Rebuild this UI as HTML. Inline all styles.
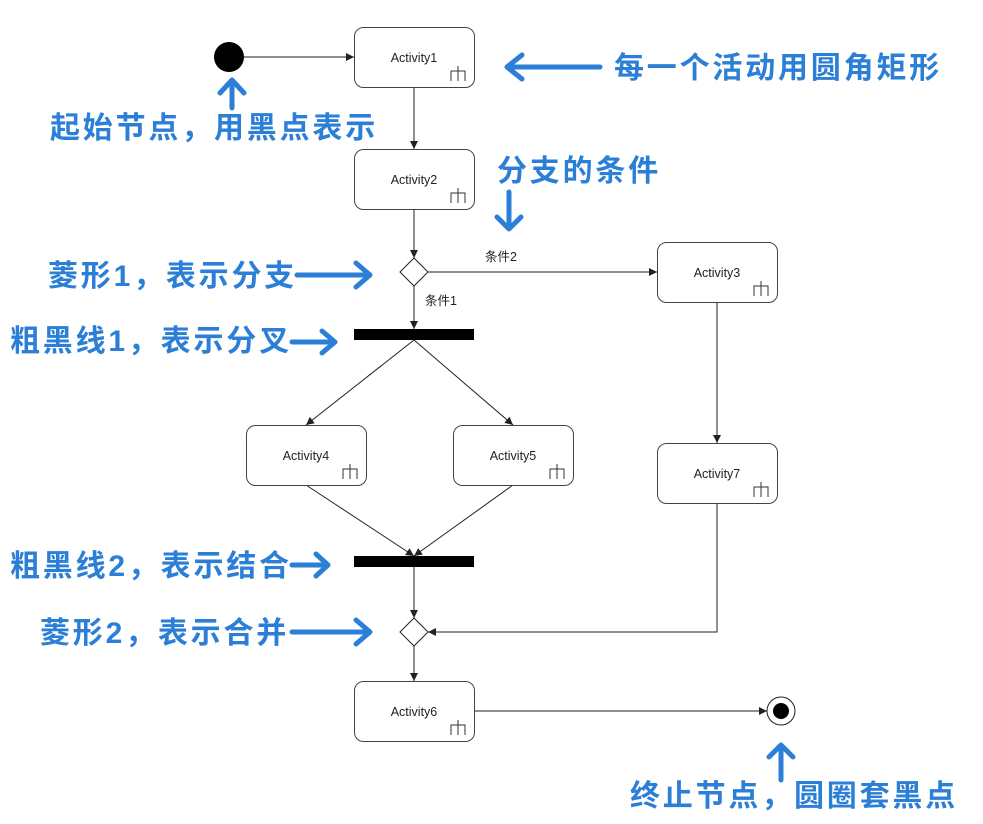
<!DOCTYPE html>
<html><head><meta charset="utf-8"><style>
body{margin:0;background:#fff;}
svg{display:block}
.a{font-family:"Liberation Sans","Noto Sans CJK SC",sans-serif;font-size:12.5px;fill:#222}
.b{font-family:"Liberation Sans","Noto Sans CJK SC",sans-serif;font-size:30px;font-weight:bold;fill:#2b7fd6;letter-spacing:2.8px}
.bl{stroke:#2b7fd6;stroke-width:5;fill:none;stroke-linecap:round;stroke-linejoin:round}
</style></head><body>
<svg width="983" height="824" viewBox="0 0 983 824">
<defs><marker id="ar" markerWidth="10" markerHeight="10" refX="9" refY="5" orient="auto" markerUnits="userSpaceOnUse"><path d="M1,1 L9,5 L1,9 z" fill="#222"/></marker></defs>
<g stroke="#222" stroke-width="1" fill="none">
<line x1="244" y1="57" x2="354" y2="57" marker-end="url(#ar)"/>
<line x1="414" y1="87" x2="414" y2="149" marker-end="url(#ar)"/>
<line x1="414" y1="209" x2="414" y2="258" marker-end="url(#ar)"/>
<line x1="428" y1="272" x2="657" y2="272" marker-end="url(#ar)"/>
<line x1="414" y1="286" x2="414" y2="329" marker-end="url(#ar)"/>
<line x1="414" y1="340" x2="306" y2="425" marker-end="url(#ar)"/>
<line x1="414" y1="340" x2="513" y2="425" marker-end="url(#ar)"/>
<line x1="717" y1="302" x2="717" y2="443" marker-end="url(#ar)"/>
<line x1="306" y1="485" x2="414" y2="556" marker-end="url(#ar)"/>
<line x1="513" y1="485" x2="414" y2="556" marker-end="url(#ar)"/>
<line x1="414" y1="567" x2="414" y2="618" marker-end="url(#ar)"/>
<polyline points="717,503 717,632 428,632" marker-end="url(#ar)"/>
<line x1="414" y1="646" x2="414" y2="681" marker-end="url(#ar)"/>
<line x1="474" y1="711" x2="767" y2="711" marker-end="url(#ar)"/>
</g>
<circle cx="229" cy="57" r="15" fill="#000"/>
<circle cx="781" cy="711" r="14" fill="#fff" stroke="#222"/>
<circle cx="781" cy="711" r="8" fill="#000"/>
<rect x="354" y="329" width="120" height="11" fill="#000"/>
<rect x="354" y="556" width="120" height="11" fill="#000"/>
<polygon points="414,258 428,272 414,286 400,272" fill="#fff" stroke="#222"/>
<polygon points="414,618 428,632 414,646 400,632" fill="#fff" stroke="#222"/>
<g fill="#fff" stroke="#444" stroke-width="1">
<rect x="354.5" y="27.5" width="120" height="60" rx="9"/>
<rect x="354.5" y="149.5" width="120" height="60" rx="9"/>
<rect x="657.5" y="242.5" width="120" height="60" rx="9"/>
<rect x="246.5" y="425.5" width="120" height="60" rx="9"/>
<rect x="453.5" y="425.5" width="120" height="60" rx="9"/>
<rect x="657.5" y="443.5" width="120" height="60" rx="9"/>
<rect x="354.5" y="681.5" width="120" height="60" rx="9"/>
</g>
<g stroke="#333" fill="none">
<path d="M451,81 v-10 h14 v10 M458,66 v15"/>
<path d="M451,203 v-10 h14 v10 M458,188 v15"/>
<path d="M754,296 v-10 h14 v10 M761,281 v15"/>
<path d="M343,479 v-10 h14 v10 M350,464 v15"/>
<path d="M550,479 v-10 h14 v10 M557,464 v15"/>
<path d="M754,497 v-10 h14 v10 M761,482 v15"/>
<path d="M451,735 v-10 h14 v10 M458,720 v15"/>
</g>
<g class="a" text-anchor="middle">
<text x="414" y="62">Activity1</text>
<text x="414" y="184">Activity2</text>
<text x="717" y="277">Activity3</text>
<text x="306" y="460">Activity4</text>
<text x="513" y="460">Activity5</text>
<text x="717" y="478">Activity7</text>
<text x="414" y="716">Activity6</text>
<text x="501" y="261">条件2</text>
<text x="441" y="305">条件1</text>
</g>
<g class="b">
<text x="614" y="78">每一个活动用圆角矩形</text>
<text x="50" y="138">起始节点，用黑点表示</text>
<text x="497" y="181">分支的条件</text>
<text x="48" y="286">菱形1，表示分支</text>
<text x="10" y="351">粗黑线1，表示分叉</text>
<text x="10" y="576">粗黑线2，表示结合</text>
<text x="40" y="643">菱形2，表示合并</text>
<text x="630" y="806">终止节点，圆圈套黑点</text>
</g>
<g class="bl">
<path d="M600,67 H507 M522,55 L507,67 L522,79"/>
<path d="M232,108 V80 M220,93 L232,80 L244,93"/>
<path d="M509,192 V229 M497,217 L509,229 L521,217"/>
<path d="M297,275 H370 M356,263 L370,275 L356,287"/>
<path d="M292,342 H335 M322,331 L335,342 L322,353"/>
<path d="M292,565 H328 M316,554 L328,565 L316,576"/>
<path d="M292,632 H370 M356,620 L370,632 L356,644"/>
<path d="M781,780 V745 M769,757 L781,745 L793,757"/>
</g>
</svg>
</body></html>
